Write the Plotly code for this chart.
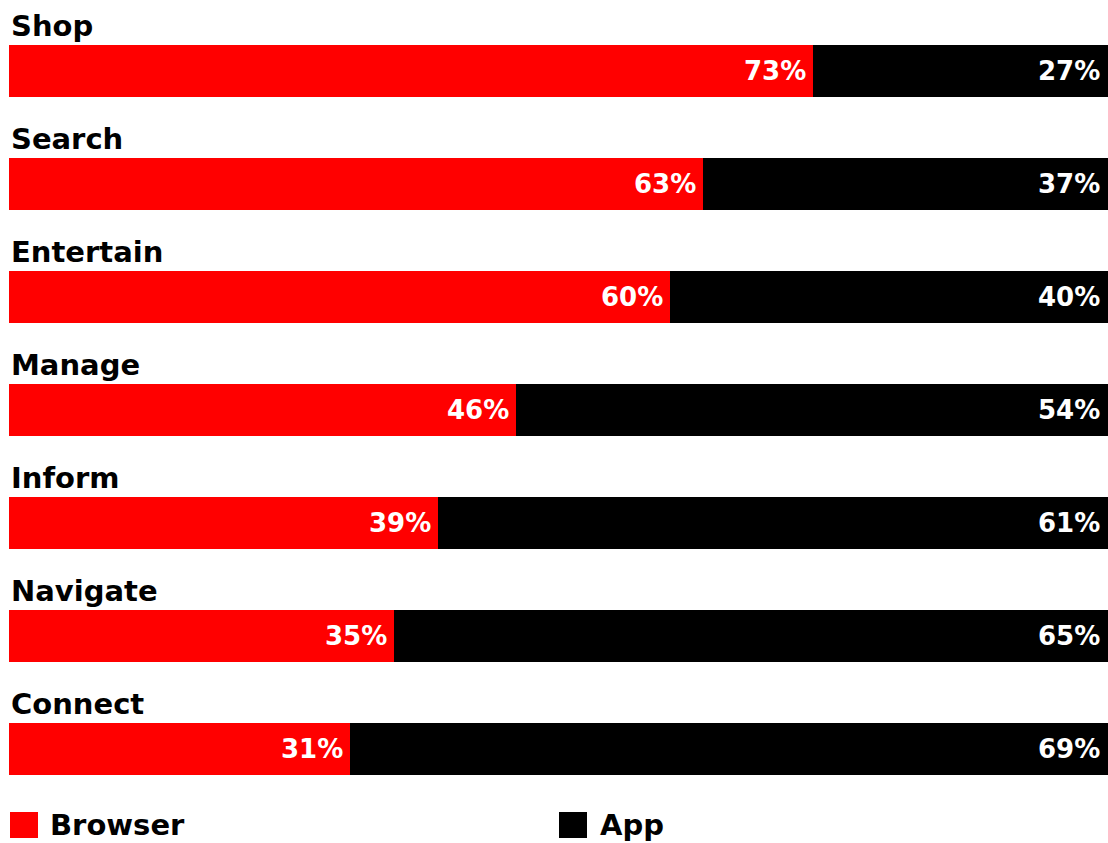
import plotly.graph_objects as go

categories = ["Shop", "Search", "Entertain", "Manage", "Inform", "Navigate", "Connect"]
browser = [73, 63, 60, 46, 39, 35, 31]
app = [27, 37, 40, 54, 61, 65, 69]
series_names = ["Browser", "App"]
colors = ["#ff0000", "#000000"]

W, H = 1108, 843
ML = 9
PW = W - ML

FONT = "DejaVu Sans"
ypos = list(range(len(categories)))

fig = go.Figure()
fig.add_trace(go.Bar(y=ypos, x=browser, orientation="h", name=series_names[0],
                     marker=dict(color=colors[0], line=dict(width=0)), width=0.46,
                     showlegend=False, hoverinfo="x+name"))
fig.add_trace(go.Bar(y=ypos, x=app, orientation="h", name=series_names[1],
                     marker=dict(color=colors[1], line=dict(width=0)), width=0.46,
                     showlegend=False, hoverinfo="x+name"))

annotations = []
for i, (c, b, a) in enumerate(zip(categories, browser, app)):
    # category label above bar
    annotations.append(dict(x=0, y=i - 0.23, xref="paper", yref="y", text=c,
                            xanchor="left", yanchor="bottom", showarrow=False,
                            xshift=0, yshift=0,
                            font=dict(family=FONT, size=29, color="#000000", weight="bold")))
    # browser value
    annotations.append(dict(x=b, y=i, xref="x", yref="y", text=f"{b}%",
                            xanchor="right", yanchor="middle", showarrow=False,
                            xshift=-5,
                            font=dict(family=FONT, size=26, color="#ffffff", weight="bold")))
    # app value (right end of the stacked bar = page edge)
    annotations.append(dict(x=1, y=i, xref="paper", yref="y", text=f"{a}%",
                            xanchor="right", yanchor="middle", showarrow=False,
                            xshift=-6,
                            font=dict(family=FONT, size=26, color="#ffffff", weight="bold")))

# custom legend
def px_x(p):
    return (p - ML) / PW

def px_y(p):
    return 1 - p / H

shapes = []
legend_pos = [(10, 48), (559, 598)]
for (sx, tx), name, col in zip(legend_pos, series_names, colors):
    shapes.append(dict(type="rect", xref="paper", yref="paper",
                       x0=px_x(sx), x1=px_x(sx + 28), y0=px_y(838), y1=px_y(812),
                       fillcolor=col, line=dict(width=0)))
    annotations.append(dict(x=px_x(tx), y=px_y(825), xref="paper", yref="paper",
                            text=name, xanchor="left", yanchor="middle", showarrow=False,
                            font=dict(family=FONT, size=29, color="#000000", weight="bold")))

a0 = -71 / 113
b0 = (H - 71) / 113

fig.update_layout(
    width=W, height=H,
    barmode="stack",
    margin=dict(l=ML, r=0, t=0, b=0),
    paper_bgcolor="#ffffff", plot_bgcolor="#ffffff",
    xaxis=dict(range=[0, 99.8], visible=False, fixedrange=True),
    yaxis=dict(range=[b0, a0], visible=False, fixedrange=True),
    annotations=annotations,
    shapes=shapes,
    showlegend=False,
)

fig.write_html("out.html")
